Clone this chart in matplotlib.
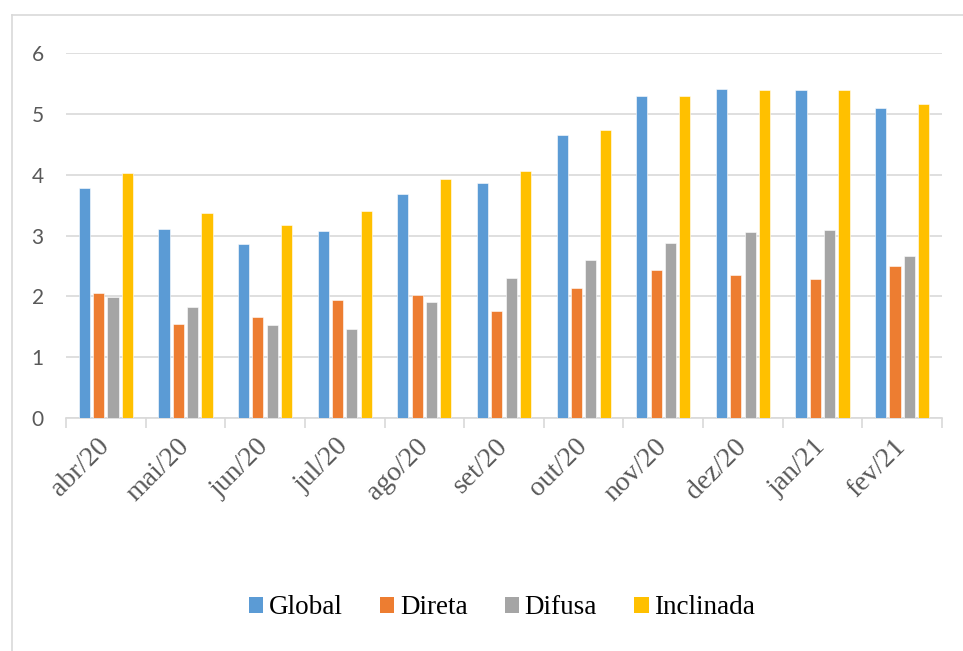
import matplotlib
matplotlib.use("Agg")
import matplotlib.pyplot as plt
import numpy as np
from matplotlib.patches import Patch
from matplotlib.lines import Line2D

categories = ["abr/20", "mai/20", "jun/20", "jul/20", "ago/20", "set/20",
              "out/20", "nov/20", "dez/20", "jan/21", "fev/21"]
series_names = ["Global", "Direta", "Difusa", "Inclinada"]
global_vals = [3.78, 3.10, 2.86, 3.07, 3.68, 3.86, 4.65, 5.29, 5.42, 5.40, 5.10]
direta_vals = [2.06, 1.55, 1.65, 1.94, 2.02, 1.75, 2.13, 2.43, 2.35, 2.29, 2.49]
difusa_vals = [1.98, 1.82, 1.53, 1.46, 1.90, 2.30, 2.60, 2.87, 3.05, 3.09, 2.66]
inclinada_vals = [4.03, 3.37, 3.18, 3.41, 3.93, 4.07, 4.74, 5.29, 5.40, 5.39, 5.16]
y_ticks = [0, 1, 2, 3, 4, 5, 6]

colors = ["#5B9BD5", "#ED7D31", "#A5A5A5", "#FFC000"]
all_series = [global_vals, direta_vals, difusa_vals, inclinada_vals]

W, H = 963, 651
fig = plt.figure(figsize=(W / 100, H / 100), dpi=100)
ax = fig.add_axes([66 / W, 1 - 417.7 / H, (942 - 66) / W, (417.7 - 53.3) / H])

x = np.arange(len(categories))
step = 0.18
bw = 0.14
for i, (vals, c) in enumerate(zip(all_series, colors)):
    ax.bar(x + (i - 1.5) * step, vals, width=bw, color=c, edgecolor="white",
           linewidth=0.4, zorder=3)

ax.set_xlim(-0.5, len(categories) - 0.5)
ax.set_ylim(0, 6)
ax.set_yticks(y_ticks)
ax.set_yticklabels([str(v) for v in y_ticks], fontfamily="Lato", fontsize=15,
                   color="#595959")
ax.tick_params(axis="y", length=0, pad=16)
ax.yaxis.grid(True, color="#D9D9D9", linewidth=1.2, zorder=0)
ax.set_axisbelow(True)

ax.set_xticks(np.arange(len(categories) + 1) - 0.5)
ax.set_xticklabels([])
ax.tick_params(axis="x", length=7, width=1.2, color="#D9D9D9")
ax.set_xticks(x, minor=True)
ax.set_xticklabels(categories, minor=True, rotation=45, ha="right",
                   va="center", rotation_mode="anchor",
                   fontfamily="Liberation Serif", fontsize=20, color="#595959")
ax.tick_params(axis="x", which="minor", length=0, pad=18)

for s in ["top", "right", "left"]:
    ax.spines[s].set_visible(False)
ax.spines["bottom"].set_color("#D9D9D9")
ax.spines["bottom"].set_linewidth(1.2)

handles = [Patch(facecolor=c, edgecolor="none") for c in colors]
leg = fig.legend(handles, series_names, loc="center", bbox_to_anchor=(502 / W, 1 - 608 / H),
                 ncol=4, frameon=False, handlelength=0.53, handleheight=0.53,
                 handletextpad=0.21, columnspacing=1.37,
                 prop={"family": "Liberation Serif", "size": 19.5})

# outer chart border (left and top only visible)
fig.add_artist(Line2D([11.5 / W, 11.5 / W], [0, 1 - 14.5 / H], transform=fig.transFigure,
                      color="#D9D9D9", linewidth=1.2))
fig.add_artist(Line2D([11.5 / W, 1], [1 - 14.5 / H, 1 - 14.5 / H], transform=fig.transFigure,
                      color="#D9D9D9", linewidth=1.2))

fig.savefig("out.png", dpi=100, facecolor="white")
